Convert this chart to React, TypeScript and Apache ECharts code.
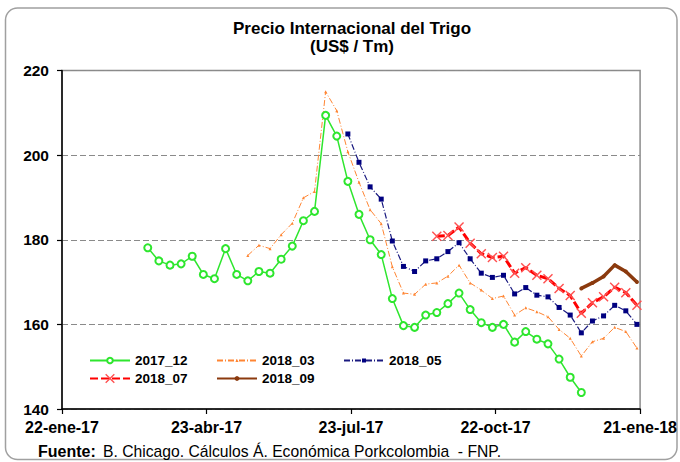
import React, { useEffect, useRef } from "react";
import * as echarts from "echarts";

// Weekly observation dates (Fridays)
const weeks: string[] = [
  "2017-03-17", "2017-03-24", "2017-03-31", "2017-04-07", "2017-04-14", "2017-04-21", "2017-04-28",
  "2017-05-05", "2017-05-12", "2017-05-19", "2017-05-26", "2017-06-02", "2017-06-09", "2017-06-16",
  "2017-06-23", "2017-06-30", "2017-07-07", "2017-07-14", "2017-07-21", "2017-07-28", "2017-08-04",
  "2017-08-11", "2017-08-18", "2017-08-25", "2017-09-01", "2017-09-08", "2017-09-15", "2017-09-22",
  "2017-09-29", "2017-10-06", "2017-10-13", "2017-10-20", "2017-10-27", "2017-11-03", "2017-11-10",
  "2017-11-17", "2017-11-24", "2017-12-01", "2017-12-08", "2017-12-15", "2017-12-22", "2017-12-29",
  "2018-01-05", "2018-01-12", "2018-01-19",
];

const tickLabels: string[] = ["22-ene-17", "23-abr-17", "23-jul-17", "22-oct-17", "21-ene-18"];
const axisStart = "2017-01-22";

const s2017_12: (number | null)[] = [
  178.1, 175.0, 174.0, 174.3, 176.1, 171.8, 170.8, 177.9, 171.8, 170.3, 172.5, 172.1, 175.4, 178.5,
  184.5, 186.7, 209.4, 204.5, 193.8, 186.0, 180.0, 176.5, 166.1, 159.7, 159.3, 162.2, 162.8, 164.9,
  167.4, 163.5, 160.4, 159.3, 160.0, 155.8, 158.3, 156.5, 155.4, 151.8, 147.5, 143.9, null, null,
  null, null, null,
];
const s2018_03: (number | null)[] = [
  null, null, null, null, null, null, null, null, null, 176.3, 178.7, 177.9, 181.2, 183.9,
  189.9, 191.4, 215.0, 210.5, 200.8, 193.6, 187.1, 183.8, 173.6, 167.4, 167.1, 169.5, 169.8, 171.4,
  174.0, 169.8, 168.1, 166.1, 166.7, 162.2, 163.9, 163.0, 161.8, 158.8, 156.7, 152.5, 155.9, 156.7,
  159.3, 158.3, 154.4,
];
const s2018_05: (number | null)[] = [
  null, null, null, null, null, null, null, null, null, null, null, null, null, null,
  null, null, null, null, 205.0, 198.3, 192.5, 189.6, 179.7, 173.7, 172.5, 175.0, 175.5, 177.2,
  179.3, 175.5, 172.1, 171.1, 171.6, 167.2, 168.7, 166.9, 166.5, 164.0, 162.2, 158.0, 160.8, 162.0,
  164.5, 163.2, 160.0,
];
const s2018_07: (number | null)[] = [
  null, null, null, null, null, null, null, null, null, null, null, null, null, null,
  null, null, null, null, null, null, null, null, null, null, null, null, 180.8, 181.0,
  183.0, 179.2, 176.7, 175.8, 176.1, 172.1, 173.4, 171.6, 170.8, 168.5, 166.8, 162.6, 165.1, 166.5,
  168.8, 167.5, 164.5,
];
const s2018_09: (number | null)[] = [
  null, null, null, null, null, null, null, null, null, null, null, null, null, null,
  null, null, null, null, null, null, null, null, null, null, null, null, null, null,
  null, null, null, null, null, null, null, null, null, null, null, 168.5, 169.8, 171.3,
  174.0, 172.5, 170.0,
];

const FONT = '"Liberation Sans", Arial, Helvetica, sans-serif';

function dayOffset(iso: string): number {
  const [y, m, d] = iso.split("-").map(Number);
  const [y0, m0, d0] = axisStart.split("-").map(Number);
  return Math.round((Date.UTC(y, m - 1, d) - Date.UTC(y0, m0 - 1, d0)) / 86400000);
}

function toPoints(vals: (number | null)[]): [number, number][] {
  const out: [number, number][] = [];
  vals.forEach((v, i) => {
    if (v !== null) out.push([dayOffset(weeks[i]), v]);
  });
  return out;
}

const X_SYMBOL =
  "path://M2,0 L10,8 L18,0 L20,2 L12,10 L20,18 L18,20 L10,12 L2,20 L0,18 L8,10 L0,2 Z";

export default function App() {
  const ref = useRef<HTMLDivElement>(null);

  useEffect(() => {
    if (!ref.current) return;
    const chart = echarts.init(ref.current, undefined, { renderer: "svg" });

    const TEXT_H = 14;
    const legendText = { fontFamily: FONT, fontSize: 13.5, fontWeight: "bold" as const, color: "#000", lineHeight: TEXT_H };
    const mkLegend = (name: string, left: number, centerY: number, itemHeight: number) => ({
      data: [name],
      left,
      top: centerY - Math.max(itemHeight, TEXT_H) / 2,
      orient: "horizontal" as const,
      itemWidth: 40,
      itemHeight,
      padding: 0,
      selectedMode: false,
      textStyle: legendText,
    });

    const option: any = {
      animation: false,
      backgroundColor: "#fff",
      grid: {
        left: 62,
        right: 39.5,
        top: 70.5,
        bottom: 53,
        show: true,
        borderColor: "#8c8c8c",
        borderWidth: 1.5,
        backgroundColor: "transparent",
      },
      legend: [
        mkLegend("2017_12", 89, 360.5, 7),
        mkLegend("2018_03", 216, 360.5, 4),
        mkLegend("2018_05", 343, 360.5, 5),
        mkLegend("2018_07", 89, 378.5, 12),
        mkLegend("2018_09", 216, 378.5, 6),
      ],
      xAxis: {
        type: "value",
        min: 0,
        max: 364,
        interval: 91,
        axisLine: { show: true, lineStyle: { color: "#000", width: 1.5 } },
        axisTick: { show: true, length: 5, lineStyle: { color: "#000", width: 1.2 } },
        axisLabel: {
          margin: 10,
          fontFamily: FONT,
          fontSize: 16,
          fontWeight: "bold",
          color: "#000",
          formatter: (v: number) => tickLabels[Math.round(v / 91)] ?? "",
        },
        splitLine: { show: false },
      },
      yAxis: {
        type: "value",
        min: 140,
        max: 220,
        interval: 20,
        axisLine: { show: true, lineStyle: { color: "#000", width: 1.5 } },
        axisTick: { show: true, length: 5, lineStyle: { color: "#000", width: 1.2 } },
        axisLabel: {
          margin: 13,
          fontFamily: FONT,
          fontSize: 15.5,
          fontWeight: "bold",
          color: "#000",
        },
        splitLine: { show: true, lineStyle: { color: "#8a8a8a", type: [6, 3], width: 1.2 } },
      },
      graphic: [
        {
          type: "rect",
          silent: true,
          z: -10,
          shape: { x: 5.5, y: 8, width: 671.5, height: 451.5, r: 12 },
          style: { fill: "none", stroke: "#a0a0a0", lineWidth: 1.5 },
        },
        {
          type: "text",
          x: 352,
          y: 19,
          style: {
            text: "Precio Internacional del Trigo\n(US$ / Tm)",
            align: "center",
            verticalAlign: "top",
            font: `bold 17px ${FONT}`,
            lineHeight: 18,
            fill: "#000",
          },
        },
        {
          type: "text",
          x: 38,
          y: 451,
          style: {
            text: "Fuente:",
            align: "left",
            verticalAlign: "middle",
            font: `bold 16px ${FONT}`,
            fill: "#000",
          },
        },
        {
          type: "text",
          x: 103,
          y: 451,
          style: {
            text: "B. Chicago. Cálculos Á. Económica Porkcolombia  - FNP.",
            align: "left",
            verticalAlign: "middle",
            font: `15.7px ${FONT}`,
            fill: "#000",
          },
        },
      ],
      series: [
        {
          name: "2017_12",
          type: "line",
          data: toPoints(s2017_12),
          symbol: "emptyCircle",
          symbolSize: 7,
          lineStyle: { color: "#2ee62e", width: 1.5 },
          itemStyle: { color: "#2ee62e", borderWidth: 1.5 },
        },
        {
          name: "2018_03",
          type: "line",
          data: toPoints(s2018_03),
          symbol: "triangle",
          symbolSize: 3,
          lineStyle: { color: "#ff8533", width: 1, type: [6, 2, 1, 2] },
          itemStyle: { color: "#ff8533" },
        },
        {
          name: "2018_05",
          type: "line",
          data: toPoints(s2018_05),
          symbol: "rect",
          symbolSize: 5,
          lineStyle: { color: "#1a1a80", width: 1.2, type: [6, 2, 1, 2] },
          itemStyle: { color: "#000080" },
        },
        {
          name: "2018_07",
          type: "line",
          data: toPoints(s2018_07),
          symbol: X_SYMBOL,
          symbolSize: 10,
          lineStyle: { color: "#ff0000", width: 3, type: [8, 3] },
          itemStyle: { color: "#ff5050" },
        },
        {
          name: "2018_09",
          type: "line",
          data: toPoints(s2018_09),
          symbol: "circle",
          symbolSize: 4,
          lineStyle: { color: "#8b3a0e", width: 3.5 },
          itemStyle: { color: "#8b3a0e" },
        },
      ],
    };

    chart.setOption(option);
    return () => chart.dispose();
  }, []);

  return (
    <div
      ref={ref}
      style={{ position: "absolute", left: 0, top: 0, width: 680, height: 462, background: "#fff" }}
    />
  );
}
